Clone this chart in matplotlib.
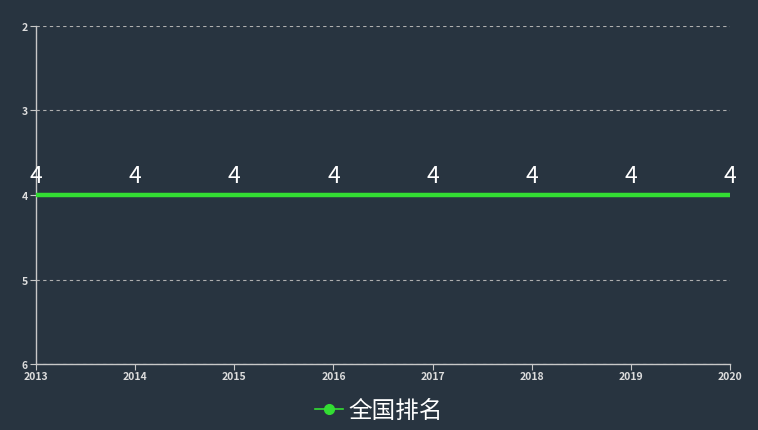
import matplotlib.pyplot as plt
from matplotlib.lines import Line2D

plt.rcParams['font.family'] = ['Noto Sans CJK SC', 'DejaVu Sans']

years = [2013, 2014, 2015, 2016, 2017, 2018, 2019, 2020]
rank = [4, 4, 4, 4, 4, 4, 4, 4]
y_ticks = [2, 3, 4, 5, 6]
series_name = '全国排名'

bg = '#283440'
green = '#33dd33'
axis_col = '#c8c8c8'

fig = plt.figure(figsize=(7.58, 4.31), dpi=100, facecolor=bg)
ax = fig.add_axes([0.0475, 0.1531, 0.9155, 0.7843])
ax.set_facecolor(bg)

ax.plot(years, rank, color=green, linewidth=3.2, solid_capstyle='round', zorder=3)
for x, v in zip(years, rank):
    ax.text(x, v - 0.1, str(v), ha='center', va='bottom', color='white', fontsize=16.5)

ax.set_xlim(years[0], years[-1])
ax.set_ylim(6, 2)
ax.set_xticks(years)
ax.set_yticks(y_ticks)
ax.grid(axis='y', color='#b0b0b0', linestyle=(0, (3, 3)), linewidth=0.8)
ax.grid(axis='x', visible=False)

for s in ['top', 'right']:
    ax.spines[s].set_visible(False)
for s in ['left', 'bottom']:
    ax.spines[s].set_color(axis_col)
    ax.spines[s].set_linewidth(1)

ax.tick_params(axis='x', colors=axis_col, labelcolor='#dddddd', labelsize=7.5, length=4, pad=1)
ax.tick_params(axis='y', colors=axis_col, labelcolor='#dddddd', labelsize=7.5, length=4, pad=2)
for lab in ax.get_xticklabels() + ax.get_yticklabels():
    lab.set_fontweight('bold')

handle = Line2D([], [], color=green, marker='o', markersize=7, linewidth=1.2)
leg = fig.legend([handle], [series_name], loc='center', bbox_to_anchor=(0.5, 0.045),
                 frameon=False, fontsize=17, handlelength=1.2, handletextpad=0.25)
for t in leg.get_texts():
    t.set_color('white')

fig.savefig('out.png', dpi=100, facecolor=bg)
